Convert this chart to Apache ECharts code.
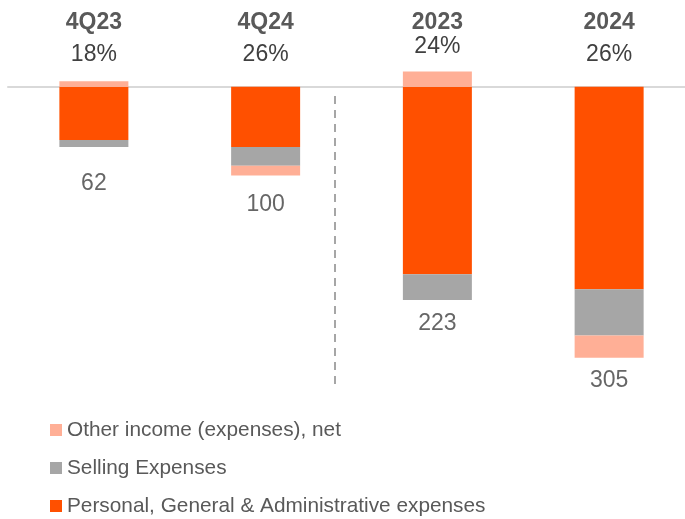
<!DOCTYPE html>
<html>
<head>
<meta charset="utf-8">
<script src="https://cdn.jsdelivr.net/npm/echarts@6/dist/echarts.min.js"></script>
<style>
    html, body { margin: 0; padding: 0; background: #fff; }
    #main { width: 685px; height: 519px; }
</style>
</head>
<body>
<div id="main"></div>
<script>
let categories = ['4Q23', '4Q24', '2023', '2024'];
let shares = ['18%', '26%', '24%', '26%'];
// expenses drawn downward (negative), other income may go either way
let personalGA = [-60, -68, -211, -228];
let selling = [-8, -21, -29, -52];
let otherIncome = [6, -11, 17, -25];
let totals = [62, 100, 223, 305];

let myChart = echarts.init(document.getElementById('main'));

// lowest point of each stacked bar, where the total label hangs
let barBottom = categories.map(function (c, i) {
    return personalGA[i] + selling[i] + Math.min(otherIncome[i], 0);
});
let labelGap = [25, 18, 12, 11];

let option = {
    animation: false,
    textStyle: { fontFamily: 'Liberation Sans, Arial, sans-serif' },
    color: ['#FF5000', '#A6A6A6', '#FFAF96'],
    grid: { left: 8, right: -10, top: 60, bottom: 139, outerBoundsMode: 'none' },
    legend: {
        orient: 'vertical',
        left: 50,
        top: 418,
        padding: 0,
        icon: 'rect',
        itemWidth: 12,
        itemHeight: 12,
        itemGap: 14,
        data: ['Other income (expenses), net', 'Selling Expenses', 'Personal, General & Administrative expenses'],
        textStyle: { fontSize: 20.8, color: '#595959', lineHeight: 24 }
    },
    xAxis: {
        type: 'category',
        position: 'top',
        data: categories,
        axisLine: { onZero: true, lineStyle: { color: '#D9D9D9', width: 2 } },
        axisTick: { show: false },
        axisLabel: {
            margin: -10,
            formatter: function (value, index) {
                if (index === 2) {
                    return '{n|' + value + '}\n{q|' + shares[index] + '}\n{s| }';
                }
                return '{n|' + value + '}\n{p|' + shares[index] + '}';
            },
            rich: {
                n: { fontSize: 23, fontWeight: 'bold', color: '#595959', lineHeight: 31.5 },
                p: { fontSize: 23, color: '#404040', lineHeight: 31.5 },
                q: { fontSize: 23, color: '#404040', lineHeight: 16.5 },
                s: { fontSize: 2, lineHeight: 15 }
            }
        }
    },
    yAxis: {
        type: 'value',
        min: -330,
        max: 30,
        show: false
    },
    series: [
        {
            name: 'Personal, General & Administrative expenses',
            type: 'bar',
            stack: 'opex',
            barWidth: 69,
            data: personalGA
        },
        {
            name: 'Selling Expenses',
            type: 'bar',
            stack: 'opex',
            barWidth: 69,
            data: selling
        },
        {
            name: 'Other income (expenses), net',
            type: 'bar',
            stack: 'opex',
            barWidth: 69,
            data: otherIncome
        },
        {
            name: 'total',
            type: 'scatter',
            symbolSize: 0,
            silent: true,
            data: barBottom.map(function (v, i) {
                return { value: v, label: { distance: labelGap[i] } };
            }),
            label: {
                show: true,
                position: 'bottom',
                fontSize: 23,
                color: '#404040',
                formatter: function (p) {
                    return totals[p.dataIndex];
                }
            }
        }
    ],
    graphic: [{
        type: 'line',
        shape: { x1: 335, y1: 96, x2: 335, y2: 384 },
        style: { stroke: '#A6A6A6', lineWidth: 2, lineDash: [8, 6] },
        silent: true
    }]
};

myChart.setOption(option);
</script>
</body>
</html>
